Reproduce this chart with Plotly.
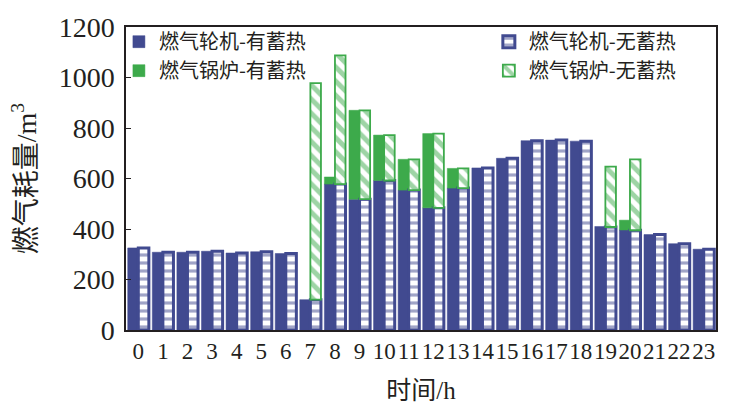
import plotly.graph_objects as go

hours = [str(h) for h in range(24)]
turbine_with = [325, 308, 308, 312, 305, 310, 303, 120, 578, 518, 592, 554, 484, 562, 642, 680, 750, 752, 748, 410, 396, 378, 342, 320]
boiler_with = [None, None, None, None, None, None, None, None, 28, 352, 180, 122, 294, 78, None, None, None, None, None, None, 39, None, None, None]
turbine_without = [325, 308, 308, 312, 305, 310, 303, 120, 578, 518, 592, 554, 484, 562, 642, 680, 750, 752, 748, 408, 395, 378, 342, 320]
boiler_without = [None, None, None, None, None, None, None, 858, 510, 352, 180, 122, 294, 78, None, None, None, None, None, 239, 281, None, None, None]

NAVY = "#414A90"
GREEN = "#3DAA4B"

fig = go.Figure()
fig.add_trace(go.Bar(
    x=hours, y=turbine_with, name="燃气轮机-有蓄热", offsetgroup="a",
    marker=dict(color=NAVY, line=dict(color=NAVY, width=0.5)), legend="legend"))
fig.add_trace(go.Bar(
    x=hours, y=boiler_with, base=turbine_with, name="燃气锅炉-有蓄热", offsetgroup="a",
    marker=dict(color=GREEN, line=dict(color=GREEN, width=0.5)), legend="legend"))
fig.add_trace(go.Bar(
    x=hours, y=turbine_without, name="燃气轮机-无蓄热", offsetgroup="b",
    marker=dict(color="white", line=dict(color=NAVY, width=3),
                pattern=dict(shape="-", fgcolor=NAVY, bgcolor="white", size=8, solidity=0.4)),
    legend="legend2"))
fig.add_trace(go.Bar(
    x=hours, y=boiler_without, base=turbine_without, name="燃气锅炉-无蓄热", offsetgroup="b",
    marker=dict(color="white", line=dict(color=GREEN, width=1.8),
                pattern=dict(shape="\\", fgcolor=GREEN, bgcolor="white", size=10, solidity=0.5)),
    legend="legend2"))

fig.update_layout(
    width=730, height=420,
    margin=dict(l=126, r=14, t=21, b=90),
    paper_bgcolor="white", plot_bgcolor="white",
    barmode="group", bargap=0.14, bargroupgap=0,
    font=dict(family="Liberation Serif, Noto Sans CJK SC", color="#231F20"),
    legend=dict(x=-0.012, y=1.016, xanchor="left", yanchor="top", bgcolor="rgba(0,0,0,0)",
                font=dict(size=20, family="Noto Sans CJK SC"), tracegroupgap=0, itemwidth=30),
    legend2=dict(x=0.615, y=1.016, xanchor="left", yanchor="top", bgcolor="rgba(0,0,0,0)",
                 font=dict(size=20, family="Noto Sans CJK SC"), tracegroupgap=0, itemwidth=30),
    showlegend=True,
)
fig.update_xaxes(
    type="category", showline=True, linecolor="#231F20", linewidth=1.5, mirror=True,
    ticks="", tickmode="linear", dtick=1, tickangle=0,
    tickfont=dict(size=23, family="Liberation Serif"),
    title=dict(text="时间/h", font=dict(size=25, family="Liberation Serif, Noto Sans CJK SC"), standoff=18),
    showgrid=False,
)
fig.update_yaxes(
    range=[0, 1200], dtick=200, showline=True, linecolor="#231F20", linewidth=1.5, mirror=True,
    ticks="inside", ticklen=5, tickcolor="#231F20",
    tickfont=dict(size=28, family="Liberation Serif"), ticklabelstandoff=4,
    title=dict(text="燃气耗量/m<sup>3</sup>", font=dict(size=28, family="Liberation Serif, Noto Sans CJK SC"), standoff=14),
    showgrid=False, zeroline=False,
)

fig.write_html("out.html")
